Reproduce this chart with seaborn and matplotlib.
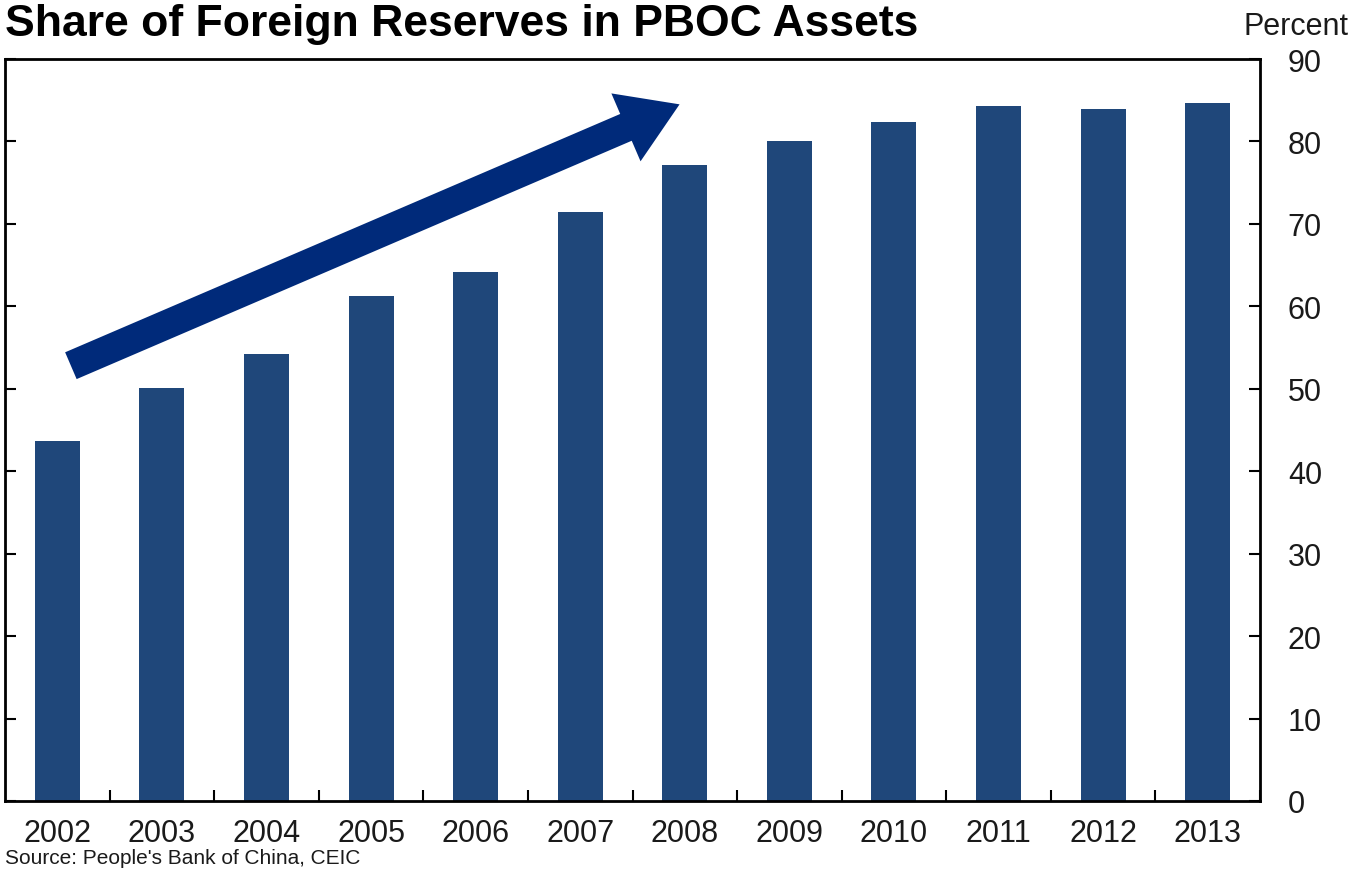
import matplotlib
matplotlib.use("Agg")
import matplotlib.pyplot as plt
import seaborn as sns
import pandas as pd
import numpy as np

years = ["2002", "2003", "2004", "2005", "2006", "2007", "2008", "2009", "2010", "2011", "2012", "2013"]
share = [43.7, 50.1, 54.2, 61.2, 64.2, 71.4, 77.1, 80.0, 82.3, 84.3, 83.9, 84.7]
yticks = [0, 10, 20, 30, 40, 50, 60, 70, 80, 90]

sns.set_theme(style="white")
plt.rcParams['font.family'] = ['Liberation Sans', 'DejaVu Sans']

df = pd.DataFrame({"year": years, "share": share})

fig = plt.figure(figsize=(13.52, 8.70), dpi=100)
ax = fig.add_axes([5/1352, 68/870, 1255/1352, 742/870])

sns.barplot(data=df, x="year", y="share", color="#1f477a", saturation=1,
            width=0.43, ax=ax, edgecolor="none")

ax.set_xlim(-0.5, len(years) - 0.5)
ax.set_ylim(0, 90)
ax.set_yticks(yticks)
ax.set_xlabel("")
ax.set_ylabel("")

for s in ax.spines.values():
    s.set_visible(True)
    s.set_color("black")
    s.set_linewidth(2)

ax.yaxis.tick_right()
ax.tick_params(axis="y", which="major", direction="in", length=8, width=1.5,
               left=True, right=True, labelleft=False, labelright=True,
               labelsize=22, pad=20, colors="black")
ax.tick_params(axis="y", labelcolor="#1a1a1a")
ax.tick_params(axis="x", which="major", length=0, labelsize=22, pad=12, labelcolor="#1a1a1a")
ax.set_xticks(np.arange(len(years)) + 0.5, minor=True)
ax.tick_params(axis="x", which="minor", direction="in", length=8, width=1.5, bottom=True, color="black")
for lbl in ax.get_yticklabels():
    lbl.set_horizontalalignment("left")

# Arrow annotation
ax.annotate("", xy=(5.95, 84.5), xytext=(0.13, 52.8),
            arrowprops=dict(arrowstyle="simple,head_length=1.5,head_width=1.9,tail_width=0.75",
                            mutation_scale=28, color="#002a7a", lw=0, shrinkA=0, shrinkB=0))

fig.text(5/1352, 1 - 36/870, "Share of Foreign Reserves in PBOC Assets",
         fontsize=32, fontweight="bold", color="black", va="baseline", ha="left")
fig.text(1349/1352, 1 - 27/870, "Percent", fontsize=22, color="#1a1a1a", va="center", ha="right")
fig.text(5/1352, 1 - 859/870, "Source: People's Bank of China, CEIC", fontsize=15,
         color="#1a1a1a", va="center", ha="left")

fig.savefig("out.png", dpi=100)
